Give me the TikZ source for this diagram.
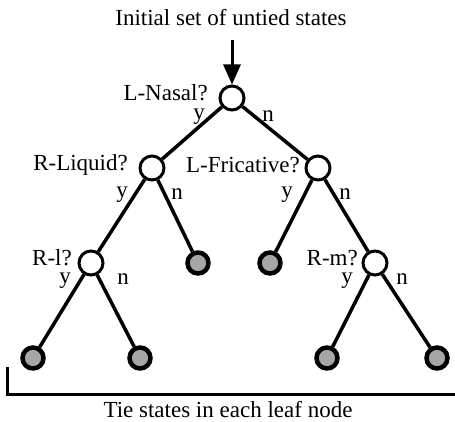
\documentclass[tikz,border=0pt]{standalone}
\usepackage{fontspec}
\setmainfont{Liberation Serif}
\usetikzlibrary{arrows.meta,scopes}
\tikzset{
  >={Triangle[length=20pt,width=17pt]},
  state/.style={circle, draw, line width=3pt, minimum size=24pt,
                inner sep=0pt, fill=white},
  leaf/.style={state, fill=black!35, line width=4.5pt, minimum size=21pt},
  query/.style={anchor=east, inner sep=0pt},
  ans/.style={inner sep=0pt},
  branch/.style={line width=3.5pt},
}

\begin{document}
\begin{tikzpicture}[x=1pt, y=-1pt, font=\fontsize{23}{26}\selectfont]
    \useasboundingbox (0,0) rectangle (455,422);
    \node (title) at (231,18) {Initial set of untied states};
    \coordinate (entry) at (232,40);
    % question nodes
    \node[state] (nasal) at (232,98) {};
    \node[state] (liquid) at (152,168) {};
    \node[state] (fric) at (318,168) {};
    \node[state] (rl) at (91,263) {};
    \node[state] (rm) at (375,263) {};
    % leaves
    \node[leaf] (leafB) at (198,263) {};
    \node[leaf] (leafC) at (270,263) {};
    \node[leaf] (leafA) at (33,358) {};
    \node[leaf] (leafD) at (140,358) {};
    \node[leaf] (leafE) at (327,358) {};
    \node[leaf] (leafF) at (437,358) {};
    % questions
    \node[query] (qnasal) at (208,93) {L-Nasal?};
    \node[query] (qliquid) at (128,165) {R-Liquid?};
    \node[query] (qfric) at (300,165) {L-Fricative?};
    \node[query] (qrl) at (72,258) {R-l?};
    \node[query] (qrm) at (358,258) {R-m?};
    \draw[->, line width=3pt] (entry) -- (nasal);
    { [branch]
      \draw (nasal) -- (liquid);
      \draw (nasal) -- (fric);
      \draw (liquid) -- (rl);
      \draw (liquid) -- (leafB);
      \draw (fric) -- (leafC);
      \draw (fric) -- (rm);
      \draw (rl) -- (leafA);
      \draw (rl) -- (leafD);
      \draw (rm) -- (leafE);
      \draw (rm) -- (leafF);
    }
    % answers
    \node[ans] (y1) at (199,117) {y};
    \node[ans] (n1) at (268,116) {n};
    \node[ans] (y2) at (122,195) {y};
    \node[ans] (n2) at (177,194) {n};
    \node[ans] (y3) at (287,195) {y};
    \node[ans] (n3) at (345,194) {n};
    \node[ans] (y4) at (65,281) {y};
    \node[ans] (n4) at (123,279) {n};
    \node[ans] (y5) at (347,281) {y};
    \node[ans] (n5) at (402,279) {n};
    % leaf bracket
    \coordinate (brtop) at (7,367);
    \coordinate (brend) at (455,394);
    \draw[line width=3pt] (brtop) |- (brend);
    \node (tie) at (228,410) {Tie states in each leaf node};
  \end{tikzpicture}
\end{document}
